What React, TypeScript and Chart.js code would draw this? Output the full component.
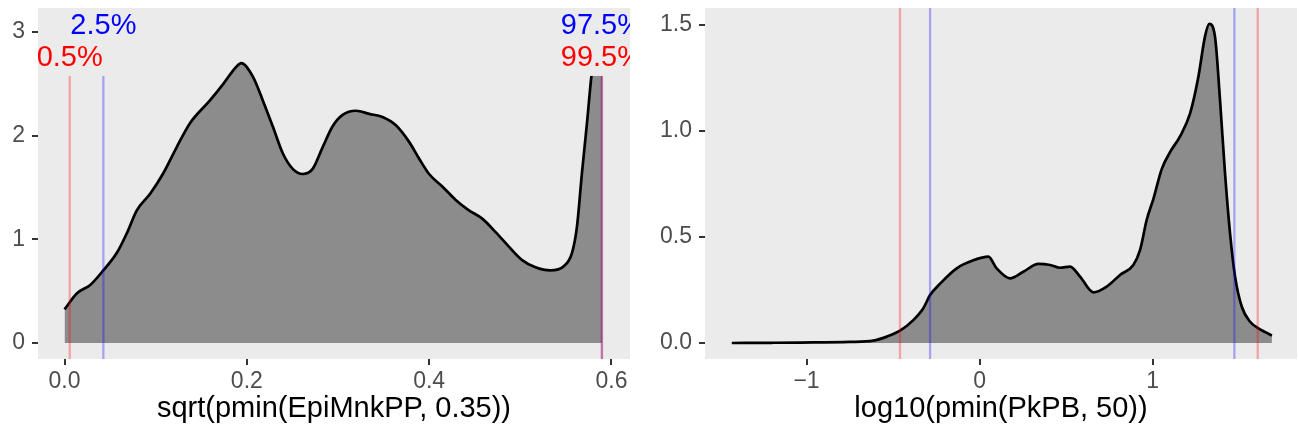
import React, { useEffect, useRef } from 'react';
import { Chart, registerables } from 'chart.js';

Chart.register(...registerables);

const FONT = '"Liberation Sans", Arial, Helvetica, sans-serif';

// ---- Left panel: sqrt(pmin(EpiMnkPP, 0.35)) ----
const LEFT_X = [0, 0.0137, 0.0282, 0.0425, 0.0574, 0.0684, 0.0793, 0.0939, 0.1085, 0.1231, 0.1376, 0.1595, 0.1742, 0.188, 0.1939, 0.2066, 0.2175, 0.2284, 0.2394, 0.2503, 0.2613, 0.2722, 0.2832, 0.2941, 0.305, 0.3197, 0.3342, 0.3488, 0.3635, 0.378, 0.3889, 0.3999, 0.4144, 0.4291, 0.4436, 0.4582, 0.4729, 0.4874, 0.502, 0.5166, 0.533, 0.5476, 0.5567, 0.5621, 0.5676, 0.5731, 0.5779, 0.584, 0.5895];
const LEFT_DENSITY = [0.325, 0.48, 0.56, 0.7, 0.87, 1.06, 1.28, 1.44, 1.64, 1.89, 2.12, 2.34, 2.5, 2.66, 2.7, 2.57, 2.34, 2.09, 1.83, 1.68, 1.63, 1.68, 1.89, 2.09, 2.2, 2.24, 2.21, 2.18, 2.1, 1.94, 1.78, 1.63, 1.51, 1.38, 1.28, 1.2, 1.07, 0.93, 0.8, 0.73, 0.7, 0.74, 0.87, 1.12, 1.64, 2.12, 2.57, 2.95, 3.15];
const LEFT_QUANTILE_X = [0.0057, 0.0426, 0.5895, 0.5895];
const LEFT_QUANTILE_COLOR = ['rgba(255,0,0,0.3)', 'rgba(0,0,255,0.3)', 'rgba(0,0,255,0.3)', 'rgba(255,0,0,0.3)'];
const LEFT_QUANTILE_LABELS = ['0.5%', '2.5%', '97.5%', '99.5%'];
const LEFT_LABEL_Y = [2.759, 3.067, 3.067, 2.759];
const LEFT_LABEL_COLOR = ['#FF0000', '#0000FF', '#0000FF', '#FF0000'];
const LEFT_X_TICKS = [0, 0.2, 0.4, 0.6];
const LEFT_X_TICK_LABELS = ['0.0', '0.2', '0.4', '0.6'];
const LEFT_Y_TICKS = [0, 1, 2, 3];
const LEFT_Y_TICK_LABELS = ['0', '1', '2', '3'];
const LEFT_X_RANGE = [-0.0291, 0.6203];
const LEFT_Y_RANGE = [-0.154, 3.231];
const LEFT_TITLE = 'sqrt(pmin(EpiMnkPP, 0.35))';

// ---- Right panel: log10(pmin(PkPB, 50)) ----
const RIGHT_X = [-1.432, -1.2, -1.038, -0.749, -0.614, -0.536, -0.46, -0.383, -0.325, -0.286, -0.228, -0.132, -0.036, 0.051, 0.099, 0.176, 0.253, 0.34, 0.408, 0.465, 0.523, 0.581, 0.658, 0.735, 0.812, 0.889, 0.928, 0.966, 1.005, 1.053, 1.101, 1.159, 1.217, 1.265, 1.303, 1.328, 1.361, 1.39, 1.419, 1.448, 1.477, 1.516, 1.564, 1.612, 1.655, 1.69];
const RIGHT_DENSITY = [0, 0.001, 0.002, 0.005, 0.011, 0.03, 0.058, 0.108, 0.164, 0.226, 0.28, 0.352, 0.39, 0.407, 0.352, 0.305, 0.336, 0.373, 0.368, 0.355, 0.36, 0.313, 0.239, 0.266, 0.321, 0.368, 0.439, 0.58, 0.68, 0.82, 0.9, 0.975, 1.083, 1.256, 1.445, 1.505, 1.445, 1.146, 0.8, 0.517, 0.313, 0.171, 0.1, 0.069, 0.05, 0.035];
const RIGHT_QUANTILE_X = [-0.46, -0.286, 1.473, 1.608];
const RIGHT_QUANTILE_COLOR = ['rgba(255,0,0,0.3)', 'rgba(0,0,255,0.3)', 'rgba(0,0,255,0.3)', 'rgba(255,0,0,0.3)'];
const RIGHT_X_TICKS = [-1, 0, 1];
const RIGHT_X_TICK_LABELS = ['\u22121', '0', '1'];
const RIGHT_Y_TICKS = [0, 0.5, 1, 1.5];
const RIGHT_Y_TICK_LABELS = ['0.0', '0.5', '1.0', '1.5'];
const RIGHT_X_RANGE = [-1.587, 1.835];
const RIGHT_Y_RANGE = [-0.0755, 1.58];
const RIGHT_TITLE = 'log10(pmin(PkPB, 50))';

type PanelProps = {
  width: number;
  yAxisWidth: number;
  padRight: number;
  xs: number[];
  ys: number[];
  qx: number[];
  qc: string[];
  labels?: string[];
  labelY?: number[];
  labelColor?: string[];
  xTicks: number[];
  xTickLabels: string[];
  yTicks: number[];
  yTickLabels: string[];
  xRange: number[];
  yRange: number[];
  title: string;
};

function DensityPanel(p: PanelProps) {
  const ref = useRef<HTMLCanvasElement | null>(null);
  useEffect(() => {
    const panelPlugin = {
      id: 'panelDecor',
      beforeDraw(chart: any) {
        const { ctx, chartArea: a } = chart;
        ctx.save();
        ctx.fillStyle = '#EBEBEB';
        ctx.fillRect(a.left, a.top, a.right - a.left, a.bottom - a.top);
        ctx.restore();
      },
      afterDatasetsDraw(chart: any) {
        const { ctx, chartArea: a, scales } = chart;
        ctx.save();
        ctx.beginPath();
        ctx.rect(a.left, a.top, a.right - a.left, a.bottom - a.top);
        ctx.clip();
        p.qx.forEach((v, i) => {
          const px = scales.x.getPixelForValue(v);
          ctx.strokeStyle = p.qc[i];
          ctx.lineWidth = 2.3;
          ctx.beginPath();
          ctx.moveTo(px, a.top);
          ctx.lineTo(px, a.bottom);
          ctx.stroke();
        });
        if (p.labels && p.labelY && p.labelColor) {
          ctx.font = `29px ${FONT}`;
          ctx.textAlign = 'center';
          ctx.textBaseline = 'middle';
          p.labels.forEach((t, i) => {
            const px = scales.x.getPixelForValue(p.qx[i]);
            const py = scales.y.getPixelForValue(p.labelY![i]);
            const w = ctx.measureText(t).width;
            ctx.fillStyle = '#EBEBEB';
            ctx.fillRect(px - w / 2 - 6, py - 19, w + 12, 38);
            ctx.fillStyle = p.labelColor![i];
            ctx.fillText(t, px, py + 1);
          });
        }
        ctx.restore();
      },
    };

    const tickGrid = {
      display: true,
      drawOnChartArea: false,
      drawTicks: true,
      tickLength: 6,
      color: '#333333',
      lineWidth: 2,
    };

    const chart = new Chart(ref.current as HTMLCanvasElement, {
      type: 'line',
      data: {
        datasets: [
          {
            data: p.xs.map((x, i) => ({ x, y: p.ys[i] })),
            borderColor: '#000000',
            borderWidth: 2.7,
            backgroundColor: '#8C8C8C',
            fill: 'origin',
            pointRadius: 0,
            cubicInterpolationMode: 'monotone',
          } as any,
        ],
      },
      options: {
        animation: false,
        responsive: false,
        layout: { padding: { top: 8, right: p.padRight, left: 0, bottom: 0 } },
        plugins: { legend: { display: false }, tooltip: { enabled: false } },
        scales: {
          x: {
            type: 'linear',
            min: p.xRange[0],
            max: p.xRange[1],
            grid: tickGrid as any,
            border: { display: false },
            afterBuildTicks: (s: any) => {
              s.ticks = p.xTicks.map((v) => ({ value: v }));
            },
            afterFit: (s: any) => {
              s.height = 76;
              s.paddingLeft = 0;
              s.paddingRight = 0;
            },
            ticks: {
              autoSkip: false,
              maxRotation: 0,
              padding: 3,
              color: '#4D4D4D',
              font: { size: 23, family: FONT },
              callback: (_v: any, i: number) => p.xTickLabels[i],
            },
            title: {
              display: true,
              text: p.title,
              color: '#000000',
              font: { size: 29, family: FONT },
              padding: { top: 0, bottom: 9 },
            },
          },
          y: {
            type: 'linear',
            min: p.yRange[0],
            max: p.yRange[1],
            grid: tickGrid as any,
            border: { display: false },
            afterBuildTicks: (s: any) => {
              s.ticks = p.yTicks.map((v) => ({ value: v }));
            },
            afterFit: (s: any) => {
              s.width = p.yAxisWidth;
              s.paddingTop = 0;
              s.paddingBottom = 0;
            },
            ticks: {
              autoSkip: false,
              padding: 7,
              color: '#4D4D4D',
              font: { size: 23, family: FONT },
              callback: (_v: any, i: number) => p.yTickLabels[i],
            },
          },
        },
      },
      plugins: [panelPlugin],
    });
    return () => chart.destroy();
  }, []);
  return <canvas ref={ref} width={p.width} height={435} style={{ display: 'block', width: p.width, height: 435 }} />;
}

export default function App() {
  return (
    <div style={{ position: 'absolute', left: 0, top: 0, width: 1299, height: 435, background: '#FFFFFF', display: 'flex' }}>
      <DensityPanel
        width={649}
        yAxisWidth={38}
        padRight={19}
        xs={LEFT_X}
        ys={LEFT_DENSITY}
        qx={LEFT_QUANTILE_X}
        qc={LEFT_QUANTILE_COLOR}
        labels={LEFT_QUANTILE_LABELS}
        labelY={LEFT_LABEL_Y}
        labelColor={LEFT_LABEL_COLOR}
        xTicks={LEFT_X_TICKS}
        xTickLabels={LEFT_X_TICK_LABELS}
        yTicks={LEFT_Y_TICKS}
        yTickLabels={LEFT_Y_TICK_LABELS}
        xRange={LEFT_X_RANGE}
        yRange={LEFT_Y_RANGE}
        title={LEFT_TITLE}
      />
      <DensityPanel
        width={650}
        yAxisWidth={56}
        padRight={2}
        xs={RIGHT_X}
        ys={RIGHT_DENSITY}
        qx={RIGHT_QUANTILE_X}
        qc={RIGHT_QUANTILE_COLOR}
        xTicks={RIGHT_X_TICKS}
        xTickLabels={RIGHT_X_TICK_LABELS}
        yTicks={RIGHT_Y_TICKS}
        yTickLabels={RIGHT_Y_TICK_LABELS}
        xRange={RIGHT_X_RANGE}
        yRange={RIGHT_Y_RANGE}
        title={RIGHT_TITLE}
      />
    </div>
  );
}
